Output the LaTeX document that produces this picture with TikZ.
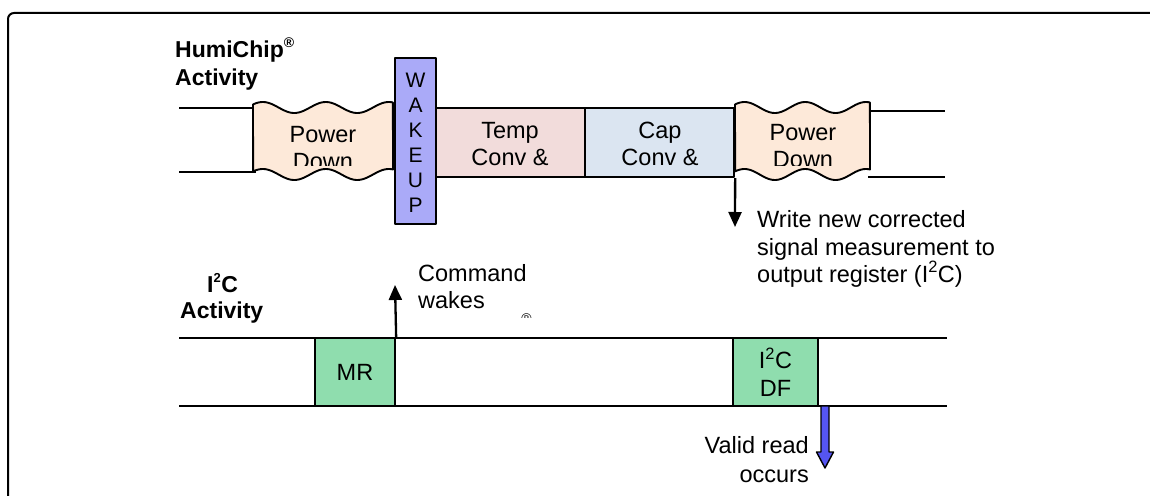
\documentclass[tikz,border=0pt]{standalone}
\usepackage{fontspec}
\setmainfont{Liberation Sans}
\usetikzlibrary{arrows.meta,calc}
\definecolor{pdfill}{HTML}{FDE9D9}
\definecolor{tempfill}{HTML}{F2DCDB}
\definecolor{capfill}{HTML}{DBE5F1}
\definecolor{wakefill}{HTML}{AAAAF8}
\definecolor{grnfill}{HTML}{8FDDAE}
\definecolor{arrblue}{HTML}{5555F2}
\begin{document}
\begin{tikzpicture}[x=1pt,y=-1pt,line join=round,
  tline/.style={line width=1.7pt},
  boxd/.style={draw,line width=2.3pt,inner sep=0pt},
  txt/.style={font=\fontsize{23.5}{27}\selectfont,inner sep=0pt},
  wk/.style={font=\fontsize{21}{24}\selectfont,inner sep=0pt,anchor=base},
  lbl/.style={font=\bfseries\fontsize{23}{26}\selectfont,inner sep=0pt,anchor=base west},
  arr/.style={line width=2.3pt,-{Triangle[width=13pt,length=15pt]}},
  wave/.style={fill=pdfill,draw,line width=1.9pt}]
\useasboundingbox (0,0) rectangle (1150,495);
\clip (0,0) rectangle (1150,495);
% frame (only the left and top sides fall inside the picture)
\draw[line width=2pt,rounded corners=6pt] (8,520) -- (8,13) -- (1170,13);
% labels
\node[lbl] (hc1) at (175,57) {HumiChip\textsuperscript{\fontsize{14}{14}\selectfont\textregistered}};
\node[lbl] (hc2) at (175,85) {Activity};
\node[lbl] (ic1) at (207,292) {I\textsuperscript{\fontsize{13}{13}\selectfont 2}C};
\node[lbl] (ic2) at (180,318) {Activity};
% top timeline lines
\draw[tline] (179,108) -- (256,108);
\draw[tline] (179,172) -- (256,172);
\draw[tline] (868,111) -- (945,111);
\draw[tline] (868,177) -- (945,177);
% power down 1
\path[wave] plot[domain=0:1,samples=80,smooth] ({253+\x*140},{107.5-5.5*sin(800*\x+34)})
  -- plot[domain=1:0,samples=80,smooth] ({253+\x*140},{174.5-5.5*sin(800*\x+34)}) -- cycle;
\begin{scope}
\clip (250,90) rectangle (400,165);
\node[txt,anchor=base] (pd1a) at (323,142) {Power};
\node[txt,anchor=base] (pd1b) at (323,169) {Down};
\end{scope}
% temp and cap
\node[boxd,fill=tempfill,minimum width=149pt,minimum height=69pt] (temp) at (510.5,142.5) {};
\node[boxd,fill=capfill,minimum width=149pt,minimum height=69pt] (cap) at (659.5,142.5) {};
\begin{scope}
\clip (436,108) rectangle (734,177);
\node[txt,anchor=base] (t1) at (510,138) {Temp};
\node[txt,anchor=base] (t2) at (510,165) {Conv \&};
\node[txt,anchor=base] (c1) at (660,138) {Cap};
\node[txt,anchor=base] (c2) at (660,165) {Conv \&};
\end{scope}
% power down 2
\path[wave] plot[domain=0:1,samples=80,smooth] ({735+\x*135},{107.5-5.5*sin(800*\x+34)})
  -- plot[domain=1:0,samples=80,smooth] ({735+\x*135},{174.5-5.5*sin(800*\x+34)}) -- cycle;
\begin{scope}
\clip (730,90) rectangle (875,165);
\node[txt,anchor=base] (pd2a) at (803,140) {Power};
\node[txt,anchor=base] (pd2b) at (803,167) {Down};
\end{scope}
% wakeup
\node[boxd,fill=wakefill,minimum width=41pt,minimum height=166pt] (wake) at (415.5,141) {};
\node[wk] (w1) at (wake.center |- 0,87) {W};
\node[wk] (w2) at (wake.center |- 0,112) {A};
\node[wk] (w3) at (wake.center |- 0,137) {K};
\node[wk] (w4) at (wake.center |- 0,162) {E};
\node[wk] (w5) at (wake.center |- 0,187) {U};
\node[wk] (w6) at (wake.center |- 0,212) {P};
% write arrow
\coordinate (wtip) at (735,227);
\draw[arr] (cap.south east) -- (wtip);
\node[txt,anchor=base west] (wr1) at (757,227) {Write new corrected};
\node[txt,anchor=base west] (wr2) at (757,255) {signal measurement to};
\node[txt,anchor=base west] (wr3) at (757,282) {output register (I\textsuperscript{2}C)};
% bottom timeline
\draw[tline] (179,338) -- (947,338);
\draw[tline] (179,406) -- (947,406);
\node[boxd,fill=grnfill,minimum width=80pt,minimum height=68pt,font=\fontsize{23.5}{27}\selectfont] (mr) at (355,372) {MR};
\node[boxd,fill=grnfill,minimum width=85pt,minimum height=68pt,align=center,font=\fontsize{23.5}{28}\selectfont] (df) at (775.5,372) {I\textsuperscript{2}C\\DF};
% command arrow
\coordinate (ctip) at (395,285);
\draw[arr] (mr.north east) -- (ctip);
\begin{scope}
\clip (400,255) rectangle (600,317);
\node[txt,anchor=base west] (cw1) at (418,281) {Command};
\node[txt,anchor=base west] (cw2) at (418,308) {wakes};
\node[txt,anchor=base west] (cw3) at (418,336) {HumiChip\raisebox{13pt}{\fontsize{14}{14}\selectfont\textregistered}};
\end{scope}
% blue arrow
\coordinate (va) at (825,406);
\draw[fill=arrblue,line width=1.4pt] ($(va)+(-4,0)$) -- ++(0,46) -- ++(-4.5,0) -- (825,468) -- (833.5,452) -- ++(-4.5,0) -- ($(va)+(4,0)$) -- cycle;
\node[txt,anchor=base east] (vr1) at (809,453) {Valid read};
\node[txt,anchor=base east] (vr2) at (809,482) {occurs};
\end{tikzpicture}
\end{document}
